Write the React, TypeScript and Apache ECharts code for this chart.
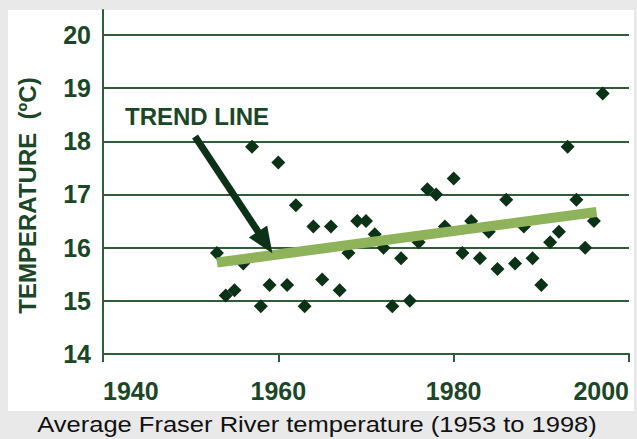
import React, { useEffect, useRef } from "react";
import * as echarts from "echarts";

const years = [
  1953, 1954, 1955, 1956, 1957, 1958, 1959, 1960, 1961, 1962, 1963, 1964, 1965,
  1966, 1967, 1968, 1969, 1970, 1971, 1972, 1973, 1974, 1975, 1976, 1977, 1978,
  1979, 1980, 1981, 1982, 1983, 1984, 1985, 1986, 1987, 1988, 1989, 1990, 1991,
  1992, 1993, 1994, 1995, 1996, 1997,
];
const temps = [
  15.9, 15.1, 15.2, 15.7, 17.9, 14.9, 15.3, 17.6, 15.3, 16.8, 14.9, 16.4, 15.4,
  16.4, 15.2, 15.9, 16.5, 16.5, 16.25, 16.0, 14.9, 15.8, 15.0, 16.1, 17.1, 17.0,
  16.4, 17.3, 15.9, 16.5, 15.8, 16.3, 15.6, 16.9, 15.7, 16.4, 15.8, 15.3, 16.1,
  16.3, 17.9, 16.9, 16.0, 16.5, 18.9,
];
const trendYears = [1953, 1996.3];
const trendTemps = [15.72, 16.67];
const arrowStart = [1950.5, 18.09];
const arrowEnd = [1958.5, 16.1];
const xTicks = [1940, 1960, 1980, 2000];
const yMin = 14;
const yMax = 20.47;
const caption = "Average Fraser River temperature (1953 to 1998)";
const yTitle = "TEMPERATURE  (\u00BAC)";
const annotation = "TREND LINE";

const DARK = "#1b4727";
const POINT = "#0b3117";
const GRID = "#305c3a";
const TREND = "#8fb35b";
const FONT = "'Liberation Sans', Arial, Helvetica, sans-serif";

export default function App() {
  const ref = useRef<HTMLDivElement>(null);
  useEffect(() => {
    if (!ref.current) return;
    const chart = echarts.init(ref.current, undefined, { renderer: "svg" });
    const scatterData = years.map((y, i) => [y, temps[i]]);
    const trendData = trendYears.map((y, i) => [y, trendTemps[i]]);
    chart.setOption({
      animation: false,
      backgroundColor: "#e9e9e9",
      grid: { left: 103, right: 8, top: 10, bottom: 85 },
      xAxis: {
        type: "value",
        min: xTicks[0],
        max: xTicks[xTicks.length - 1],
        interval: 20,
        axisLine: { show: true, lineStyle: { color: GRID, width: 2 } },
        axisTick: { show: true, length: 8, lineStyle: { color: GRID, width: 2 } },
        splitLine: { show: false },
        axisLabel: {
          margin: 24,
          color: DARK,
          fontSize: 25,
          fontWeight: "bold",
          fontFamily: FONT,
          alignMinLabel: "left",
          alignMaxLabel: "right",
          formatter: (v: number) => String(v),
        },
      },
      yAxis: {
        type: "value",
        min: yMin,
        max: yMax,
        interval: 1,
        name: yTitle,
        nameLocation: "middle",
        nameGap: 64,
        nameTextStyle: {
          color: DARK,
          fontSize: 24,
          fontWeight: "bold",
          fontFamily: FONT,
          padding: [0, 27, 0, 0],
        },
        axisLine: { show: true, lineStyle: { color: GRID, width: 2 } },
        axisTick: { show: false },
        splitLine: {
          show: true,
          showMaxLine: false,
          lineStyle: { color: GRID, width: 2 },
        },
        axisLabel: {
          margin: 12,
          color: DARK,
          fontSize: 25,
          fontWeight: "bold",
          fontFamily: FONT,
          showMaxLabel: false,
          formatter: (v: number) => String(v),
        },
      },
      graphic: [
        {
          type: "rect",
          z: -100,
          shape: { x: 8, y: 10, width: 626, height: 401 },
          style: { fill: "#ffffff" },
          silent: true,
        },
        {
          type: "text",
          z: 100,
          x: 125,
          y: 104,
          style: {
            text: annotation,
            fill: DARK,
            font: `bold 24px ${FONT}`,
          },
        },
        {
          type: "text",
          z: 100,
          x: 317,
          y: 424,
          scaleX: 1.16,
          style: {
            text: caption,
            fill: "#111111",
            font: `22px ${FONT}`,
            textAlign: "center",
            textVerticalAlign: "middle",
          },
        },
      ],
      series: [
        {
          type: "scatter",
          data: scatterData,
          symbol: "diamond",
          symbolSize: 14,
          itemStyle: { color: POINT, opacity: 1 },
          silent: true,
        },
        {
          type: "line",
          data: trendData,
          symbol: "none",
          lineStyle: { color: TREND, width: 10, cap: "butt", opacity: 1 },
          silent: true,
          markLine: {
            silent: true,
            symbol: ["none", "triangle"],
            symbolSize: [22, 26],
            label: { show: false },
            lineStyle: { color: POINT, width: 7, type: "solid", opacity: 1 },
            emphasis: { disabled: true },
            data: [
              [
                { coord: arrowStart },
                { coord: arrowEnd },
              ],
            ],
          },
        },
      ],
    });
    return () => chart.dispose();
  }, []);
  return (
    <div
      ref={ref}
      style={{ position: "fixed", left: 0, top: 0, width: 637, height: 439 }}
    />
  );
}
